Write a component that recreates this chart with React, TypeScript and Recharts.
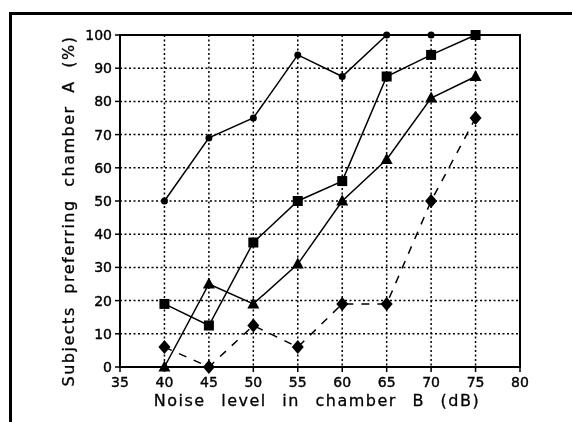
import React from "react";
import {
  CartesianGrid,
  Line,
  LineChart,
  ReferenceArea,
  XAxis,
  YAxis,
} from "recharts";

const noiseLevels = [40, 45, 50, 55, 60, 65, 70, 75];
const circleSeries = [50, 69, 75, 94, 87.5, 100, 100, 100];
const squareSeries = [19, 12.5, 37.5, 50, 56, 87.5, 94, 100];
const triangleSeries = [0, 25, 19, 31, 50, 62.5, 81, 87.5];
const diamondSeries = [6, 0, 12.5, 6, 19, 19, 50, 75];

const xTicks = [35, 40, 45, 50, 55, 60, 65, 70, 75, 80];
const yTicks = [0, 10, 20, 30, 40, 50, 60, 70, 80, 90, 100];

const data = noiseLevels.map((x, i) => ({
  x,
  circle: circleSeries[i],
  square: squareSeries[i],
  triangle: triangleSeries[i],
  diamond: diamondSeries[i],
}));

const FONT = "'DejaVu Sans', sans-serif";

const CircleDot = (props: any) => {
  const { cx, cy } = props;
  if (cx == null || cy == null) return null;
  return <circle cx={cx} cy={cy} r={3.5} fill="#000" />;
};

const SquareDot = (props: any) => {
  const { cx, cy } = props;
  if (cx == null || cy == null) return null;
  return <rect x={cx - 5} y={cy - 5} width={10} height={10} fill="#000" />;
};

const TriangleDot = (props: any) => {
  const { cx, cy } = props;
  if (cx == null || cy == null) return null;
  return (
    <path
      d={`M${cx},${cy - 6.5} L${cx + 6},${cy + 4.5} L${cx - 6},${cy + 4.5} Z`}
      fill="#000"
    />
  );
};

const DiamondDot = (props: any) => {
  const { cx, cy } = props;
  if (cx == null || cy == null) return null;
  return (
    <path
      d={`M${cx},${cy - 7} L${cx + 6},${cy} L${cx},${cy + 7} L${cx - 6},${cy} Z`}
      fill="#000"
    />
  );
};

const YLabel = (props: any) => {
  const { viewBox } = props;
  const x = viewBox.x - 12;
  const y = viewBox.y + viewBox.height / 2 + 10;
  return (
    <text
      x={x}
      y={y}
      transform={`rotate(-90, ${x}, ${y})`}
      textAnchor="middle"
      dominantBaseline="central"
      fontFamily={FONT}
      fontSize={16}
      letterSpacing={1.5}
      wordSpacing={6}
      fill="#000"
      stroke="#000"
      strokeWidth={0.3}
    >
      Subjects preferring chamber A (%)
    </text>
  );
};

export default function App() {
  return (
    <div style={{ position: "relative", width: 564, height: 406 }}>
      <div
        style={{
          position: "fixed",
          left: 9,
          top: 12,
          right: 0,
          bottom: 0,
          borderLeft: "3px solid #000",
          borderTop: "3px solid #000",
        }}
      />
      <LineChart
        width={564}
        height={406}
        data={data}
        margin={{ top: 27, right: 52, bottom: 17, left: 72 }}
        style={{ position: "absolute", left: 0, top: 0 }}
      >
        <CartesianGrid
          stroke="#000"
          strokeWidth={1.5}
          strokeDasharray="2 2.5"
          horizontalValues={yTicks}
          verticalValues={xTicks}
        />
        <ReferenceArea
          x1={35}
          x2={80}
          y1={0}
          y2={100}
          fill="none"
          stroke="#000"
          strokeWidth={2}
          fillOpacity={0}
        />
        <XAxis
          dataKey="x"
          type="number"
          domain={[35, 80]}
          ticks={xTicks}
          interval={0}
          height={30}
          tickSize={5}
          tickMargin={5}
          axisLine={{ stroke: "#000", strokeWidth: 2 }}
          tickLine={{ stroke: "#000", strokeWidth: 1.5 }}
          tick={{
            fill: "#000",
            stroke: "#000",
            strokeWidth: 0.4,
            fontFamily: FONT,
            fontSize: 14,
          }}
          label={{
            value: "Noise level in chamber B (dB)",
            position: "bottom",
            offset: -2,
            dx: -3,
            fill: "#000",
            stroke: "#000",
            strokeWidth: 0.3,
            fontFamily: FONT,
            fontSize: 16,
            letterSpacing: 1.5,
            wordSpacing: 9,
          }}
        />
        <YAxis
          type="number"
          domain={[0, 100]}
          ticks={yTicks}
          interval={0}
          width={40}
          tickSize={5}
          tickMargin={3}
          axisLine={{ stroke: "#000", strokeWidth: 2 }}
          tickLine={{ stroke: "#000", strokeWidth: 1.5 }}
          tick={{
            fill: "#000",
            stroke: "#000",
            strokeWidth: 0.4,
            fontFamily: FONT,
            fontSize: 14,
          }}
          label={<YLabel />}
        />
        <Line
          dataKey="circle"
          stroke="#000"
          strokeWidth={1.5}
          dot={<CircleDot />}
          isAnimationActive={false}
        />
        <Line
          dataKey="square"
          stroke="#000"
          strokeWidth={1.5}
          dot={<SquareDot />}
          isAnimationActive={false}
        />
        <Line
          dataKey="triangle"
          stroke="#000"
          strokeWidth={1.5}
          dot={<TriangleDot />}
          isAnimationActive={false}
        />
        <Line
          dataKey="diamond"
          stroke="#000"
          strokeWidth={1.5}
          strokeDasharray="8 8"
          dot={<DiamondDot />}
          isAnimationActive={false}
        />
      </LineChart>
    </div>
  );
}
